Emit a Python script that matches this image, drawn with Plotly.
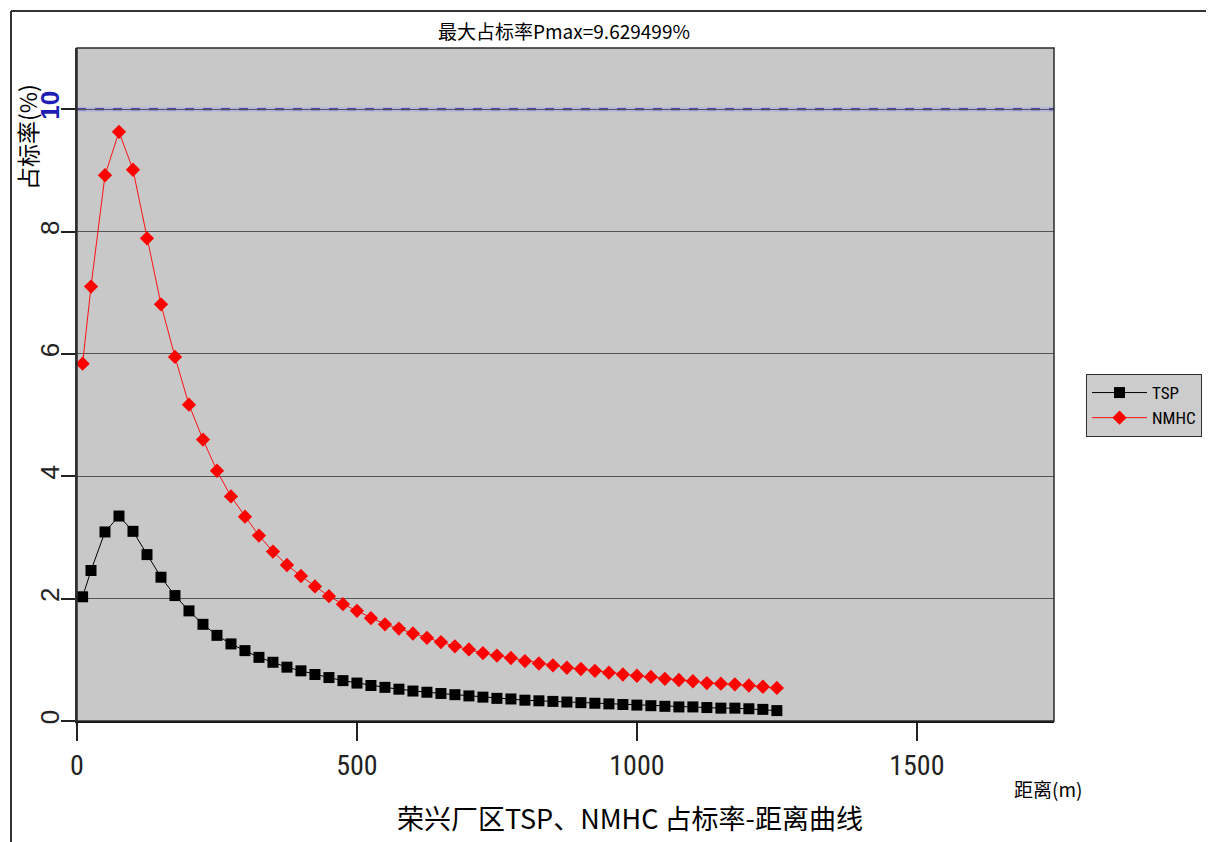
import plotly.graph_objects as go

# ---------------- data ----------------
distance_m = [10, 25, 50, 75, 100, 125, 150, 175, 200, 225, 250, 275, 300, 325, 350,
              375, 400, 425, 450, 475, 500, 525, 550, 575, 600, 625, 650, 675, 700,
              725, 750, 775, 800, 825, 850, 875, 900, 925, 950, 975, 1000, 1025, 1050,
              1075, 1100, 1125, 1150, 1175, 1200, 1225, 1250]

tsp_pct = [2.03, 2.46, 3.09, 3.35, 3.10, 2.72, 2.35, 2.05, 1.80, 1.58, 1.40, 1.26,
           1.15, 1.04, 0.96, 0.88, 0.82, 0.76, 0.71, 0.66, 0.62, 0.58, 0.55, 0.52,
           0.49, 0.47, 0.45, 0.43, 0.41, 0.39, 0.37, 0.36, 0.34, 0.33, 0.32, 0.31,
           0.30, 0.29, 0.28, 0.27, 0.26, 0.25, 0.24, 0.23, 0.23, 0.22, 0.21, 0.21,
           0.20, 0.19, 0.17]

nmhc_pct = [5.84, 7.10, 8.92, 9.63, 9.01, 7.89, 6.81, 5.95, 5.17, 4.60, 4.09, 3.67,
            3.34, 3.03, 2.77, 2.55, 2.37, 2.20, 2.04, 1.91, 1.80, 1.68, 1.58, 1.51,
            1.43, 1.36, 1.29, 1.22, 1.17, 1.11, 1.07, 1.03, 0.98, 0.94, 0.91, 0.87,
            0.85, 0.82, 0.79, 0.76, 0.74, 0.72, 0.69, 0.67, 0.65, 0.62, 0.61, 0.60,
            0.58, 0.56, 0.54]

x_ticks = [0, 500, 1000, 1500]
y_ticks = [0, 2, 4, 6, 8, 10]
y_ticktext = ["0", "2", "4", "6", "8", "<b><span style='color:#1e1eb4'>10</span></b>"]
limit_line = 10

title_text = "最大占标率Pmax=9.629499%"
bottom_title = "荣兴厂区TSP、NMHC 占标率-距离曲线"
x_title = "距离(m)"
y_title = "占标率(%)"

# ---------------- layout geometry (reference pixel coords) ----------------
W, H = 1214, 842
OFF = 8                      # page body margin
L, R, T, B = 77, 1054, 48, 721
PW, PH = R - L, B - T
FW, FH = W - OFF, H - OFF


def px(x):
    return (x - L) / PW


def py(y):
    return (B - y) / PH


CJK = "Noto Sans CJK SC"
NARROW = "Liberation Sans Narrow, Roboto Condensed, Liberation Sans, Arial"

fig = go.Figure()
fig.add_trace(go.Scatter(
    x=distance_m, y=tsp_pct, name="TSP", mode="lines+markers",
    line=dict(color="black", width=1),
    marker=dict(symbol="square", size=11, color="black"),
))
fig.add_trace(go.Scatter(
    x=distance_m, y=nmhc_pct, name="NMHC", mode="lines+markers",
    line=dict(color="#ff1010", width=1),
    marker=dict(symbol="diamond", size=11, color="#ff0000"),
))

shapes = [
    dict(type="line", xref="paper", yref="y", x0=0, x1=1, y0=limit_line, y1=limit_line,
         line=dict(color="#b6b6dc", width=5), layer="below"),
    dict(type="line", xref="paper", yref="y", x0=0, x1=1, y0=limit_line, y1=limit_line,
         line=dict(color="#25258a", width=2, dash="dash"), layer="below"),
    dict(type="rect", xref="paper", yref="paper", x0=0, x1=1, y0=0, y1=1,
         line=dict(color="#2a2a2a", width=1.5)),
    dict(type="line", xref="paper", yref="paper", x0=px(11), x1=px(11), y0=py(11), y1=py(H + 10),
         line=dict(color="#333333", width=2)),
    dict(type="line", xref="paper", yref="paper", x0=px(11), x1=px(W + 10), y0=py(11), y1=py(11),
         line=dict(color="#333333", width=2)),
]

annotations = [
    dict(text=title_text, xref="paper", yref="paper", x=px(564), y=py(30),
         showarrow=False, font=dict(family=CJK, size=19, color="black"),
         xanchor="center", yanchor="middle"),
    dict(text=bottom_title, xref="paper", yref="paper", x=px(630), y=py(817),
         showarrow=False, font=dict(family=CJK, size=27, color="black"),
         xanchor="center", yanchor="middle"),
    dict(text=x_title, xref="paper", yref="paper", x=px(1048), y=py(788),
         showarrow=False, font=dict(family=CJK, size=19, color="black"),
         xanchor="center", yanchor="middle"),
    dict(text=y_title, xref="paper", yref="paper", x=px(27), y=py(137),
         showarrow=False, textangle=-90, font=dict(family=CJK, size=23, color="black"),
         xanchor="center", yanchor="middle"),
]

fig.update_layout(
    width=FW, height=FH,
    margin=dict(l=L - OFF, r=FW - (R - OFF), t=T - OFF, b=FH - (B - OFF), pad=0),
    paper_bgcolor="white",
    plot_bgcolor="#c8c8c8",
    shapes=shapes,
    annotations=annotations,
    showlegend=True,
    legend=dict(
        x=px(1086), y=py(374), xanchor="left", yanchor="top",
        bgcolor="#cccccc", bordercolor="#333333", borderwidth=1,
        font=dict(family=NARROW, size=17, color="black"),
        tracegroupgap=0, itemwidth=55,
    ),
    xaxis=dict(
        range=[0, 1745], tickmode="array", tickvals=x_ticks,
        ticks="outside", ticklen=18, tickwidth=1.5, tickcolor="#222222",
        showline=True, linecolor="#111111", linewidth=2,
        showgrid=False, zeroline=False,
        tickfont=dict(family=NARROW, size=28, color="#222222"),
    ),
    yaxis=dict(
        range=[0, 11], tickmode="array", tickvals=y_ticks, ticktext=y_ticktext,
        tickangle=-90, ticklabelstandoff=-8,
        ticks="outside", ticklen=14, tickwidth=1.5, tickcolor="#222222",
        showline=True, linecolor="#333333", linewidth=1.5,
        showgrid=True, gridcolor="#555555", gridwidth=1.2,
        zeroline=False,
        tickfont=dict(family="Liberation Sans, Arial", size=26, color="#222222"),
    ),
)

fig.write_html("out.html")
